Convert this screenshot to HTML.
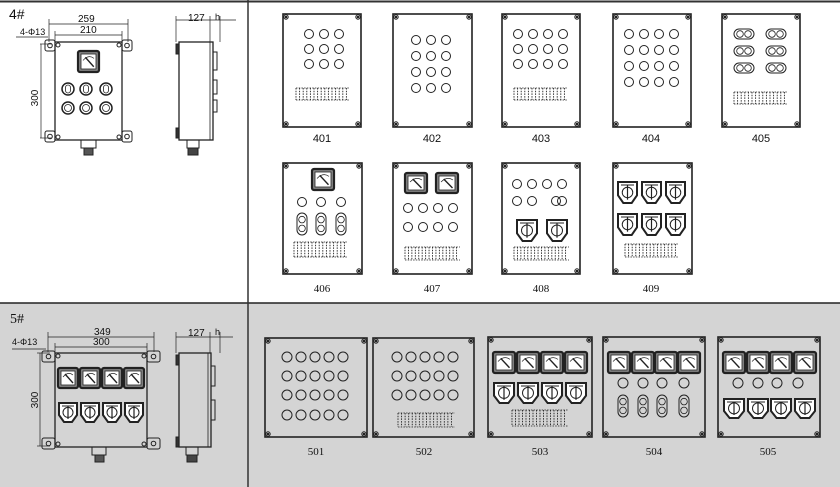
<!DOCTYPE html>
<html><head><meta charset="utf-8"><style>
html,body{margin:0;padding:0;background:#fff;}
svg{display:block;}
text{font-family:"Liberation Sans",sans-serif;fill:#111;}
.s{font-family:"Liberation Serif",serif;}
</style></head><body>
<svg id="g" width="840" height="487" viewBox="0 0 840 487" xmlns="http://www.w3.org/2000/svg">
<rect x="0" y="303" width="840" height="184" fill="#d4d4d4"/>
<line x1="0" y1="1.5" x2="840" y2="1.5" stroke="#333" stroke-width="2"/>
<line x1="0" y1="303" x2="840" y2="303" stroke="#222" stroke-width="1.5"/>
<line x1="248" y1="0" x2="248" y2="487" stroke="#333" stroke-width="1.5"/>
<g id="d" fill="none" stroke="#222"></g>
<text x="9" y="19" font-size="14">4#</text>
<text x="20" y="35" font-size="9">4-Φ13</text>
<text x="78" y="22" font-size="10">259</text>
<text x="80" y="33" font-size="10">210</text>
<text x="38" y="98" font-size="10" transform="rotate(-90 38 98)" text-anchor="middle">300</text>
<text x="188" y="21" font-size="10">127</text>
<text x="215" y="20" font-size="9">h</text>
<text x="10" y="323" font-size="14" class="s">5#</text>
<text x="12" y="345" font-size="9">4-Φ13</text>
<text x="94" y="335" font-size="10">349</text>
<text x="93" y="345" font-size="10">300</text>
<text x="38" y="400" font-size="10" transform="rotate(-90 38 400)" text-anchor="middle">300</text>
<text x="188" y="336" font-size="10">127</text>
<text x="215" y="335" font-size="9">h</text>
<g font-size="11" text-anchor="middle">
<text x="322" y="142">401</text><text x="432" y="142">402</text><text x="541" y="142">403</text><text x="651" y="142">404</text><text x="761" y="142">405</text>
<text x="322" y="292" class="s">406</text><text x="432" y="292" class="s">407</text><text x="541" y="292" class="s">408</text><text x="651" y="292" class="s">409</text>
<text x="316" y="455" class="s">501</text><text x="424" y="455" class="s">502</text><text x="540" y="455" class="s">503</text><text x="654" y="455" class="s">504</text><text x="768" y="455" class="s">505</text>
</g>
</svg>
<script>
var d=document.getElementById('d'),h='';
function R(x,y,w,ht,a){h+='<rect x="'+x+'" y="'+y+'" width="'+w+'" height="'+ht+'" '+(a||'')+'/>';}
function C(x,y,r,a){h+='<circle cx="'+x+'" cy="'+y+'" r="'+r+'" '+(a||'')+'/>';}
function L(a,b,c,e,s){h+='<line x1="'+a+'" y1="'+b+'" x2="'+c+'" y2="'+e+'" '+(s||'stroke-width="0.7"')+'/>';}
function P(x,y,w,ht){R(x,y,w,ht,'stroke-width="1.6"');[[x+3,y+3],[x+w-3,y+3],[x+3,y+ht-3],[x+w-3,y+ht-3]].forEach(function(p){C(p[0],p[1],2.2,'stroke-width="1"');C(p[0],p[1],0.8,'fill="#222"');});}
function circ(xs,ys,r){ys.forEach(function(y){xs.forEach(function(x){C(x,y,r||4.5,'stroke-width="1"');});});}
function strip(x,y,w,ht){var n=Math.round(w/3.5);for(var i=0;i<n;i++){var xx=x+i*w/n;L(xx,y,xx,y+ht,'stroke-width="0.9" stroke-dasharray="1.5,1.2"');}L(x,y,x+w,y,'stroke-width="0.8" stroke-dasharray="1.5,1.2"');L(x,y+ht,x+w,y+ht,'stroke-width="0.8" stroke-dasharray="1.5,1.2"');}
function meter(x,y,w,ht){R(x,y,w,ht,'stroke-width="2.2" rx="2" fill="#888"');R(x+3,y+3,w-6,ht-6,'fill="#fff" stroke-width="0.8"');h+='<path d="M'+(x+5)+' '+(y+ht*0.45)+' Q'+(x+w/2)+' '+(y+3)+' '+(x+w-5)+' '+(y+ht*0.35)+'" stroke-width="0.7"/>';L(x+w*0.35,y+ht*0.3,x+w*0.75,y+ht*0.75,'stroke-width="1.4"');}
function sw(x,y,w,ht){h+='<path d="M'+(x+1)+' '+(y+1)+' H'+(x+w-1)+' V'+(y+ht*0.65)+' L'+(x+w*0.7)+' '+(y+ht)+' H'+(x+w*0.3)+' L'+(x+1)+' '+(y+ht*0.65)+' Z" stroke-width="2" fill="#fff"/>';h+='<path d="M'+(x+4)+' '+(y+4)+' H'+(x+w-4)+'" stroke-width="1"/>';C(x+w/2,y+ht*0.52,w*0.25,'stroke-width="1"');L(x+w/2,y+ht*0.2,x+w/2,y+ht*0.85,'stroke-width="1.2"');}
function vov(cx,y,w,ht){R(cx-w/2,y,w,ht,'rx="'+(w/2)+'" stroke-width="1"');C(cx,y+ht*0.3,w*0.33,'stroke-width="0.8"');C(cx,y+ht*0.7,w*0.33,'stroke-width="0.8"');}
function hov(x,cy,w,ht){R(x,cy-ht/2,w,ht,'rx="'+(ht/2)+'" stroke-width="1"');C(x+w*0.3,cy,ht*0.33,'stroke-width="0.8"');C(x+w*0.7,cy,ht*0.33,'stroke-width="0.8"');}
// row 1
P(283,14,78,113);circ([309,324,339],[34,49,64]);strip(296,88,54,12);
P(393,14,79,113);circ([416,431,446],[40,56,72,88]);
P(502,14,78,113);circ([518,533,548,563],[34,49,64]);strip(514,88,54,12);
P(613,14,78,113);circ([629,644,659,674],[34,50,66,82,98].slice(0,4));
P(722,14,78,113);[34,51,68].forEach(function(y){hov(734,y,20,10);hov(766,y,20,10);});strip(734,92,54,12);
// row 2
P(283,163,79,111);meter(312,169,22,21);circ([302,321,341],[202]);[302,321,341].forEach(function(x){vov(x,213,10,22);});strip(294,242,54,15);
P(393,163,79,111);meter(405,173,22,20);meter(436,173,22,20);circ([408,423,438,453],[208,227]);strip(405,247,55,13);
P(502,163,78,111);circ([517,532,547,562],[184]);circ([517,532],[201]);C(556,201,4.5,'stroke-width="1"');C(562,201,4.5,'stroke-width="1"');sw(516,219,22,22);sw(546,219,22,22);strip(514,247,55,13);
P(613,163,79,111);[181,213].forEach(function(y){sw(617,y,21,22);sw(641,y,21,22);sw(665,y,21,22);});strip(625,244,54,13);
// row 3
P(265,338,102,99);circ([287,301,315,329,343],[357,376,395,415],5);
P(373,338,101,99);circ([397,411,425,439,453],[357,376,395],5);strip(398,413,57,14);
P(488,337,104,100);[493,517,541,565].forEach(function(x){meter(x,352,22,21);sw(x,382,22,21);});strip(512,410,56,16);
P(603,337,102,100);[608,632,655,678].forEach(function(x){meter(x,352,22,21);});circ([623,643,662,684],[383],5);[623,643,662,684].forEach(function(x){vov(x,395,10,22);});
P(718,337,102,100);[723,747,770,794].forEach(function(x){meter(x,352,22,21);sw(x,398,22,20);});circ([738,758,777,798],[383],5);
// left 4#
function front(x,y,w,ht,ex){R(x,y,w,ht,'stroke-width="1.3"');[[x-ex,y-2],[x+w,y-2],[x-ex,y+ht-9],[x+w,y+ht-9]].forEach(function(p){R(p[0],p[1],ex,11,'rx="2" stroke-width="1"');C(p[0]+ex/2,p[1]+5.5,2.3,'stroke-width="1"');});[[x+3,y+3],[x+w-3,y+3],[x+3,y+ht-3],[x+w-3,y+ht-3]].forEach(function(p){C(p[0],p[1],2,'stroke-width="1"');});}
front(55,42,67,98,10);meter(78,51,21,21);
[68,86,106].forEach(function(x){C(x,89,6,'stroke-width="1.5"');R(x-2.5,85,5,8,'rx="2.5" stroke-width="0.8"');C(x,108,6,'stroke-width="1.5"');C(x,108,3.5,'stroke-width="0.8"');});
R(81,140,15,8,'stroke-width="1"');R(84,148,9,7,'stroke-width="1" fill="#555"');
R(179,42,34,98,'stroke-width="1.3"');R(176,44,3,10,'fill="#333"');R(176,128,3,10,'fill="#333"');R(210,42,3,98,'stroke-width="0.8"');R(213,52,4,18,'stroke-width="1"');R(213,80,4,14,'stroke-width="1"');R(213,100,4,12,'stroke-width="1"');R(187,140,12,8,'stroke-width="1"');R(188,148,10,7,'fill="#444"');
L(49,24,128,24);L(49,19,49,42);L(128,19,128,42);L(55,35,122,35);L(55,31,55,42);L(122,31,122,42);L(40,44,52,44);L(40,138,52,138);L(41,44,41,138);L(16,37,48,37);
L(176,16,176,42);L(176,20,210,20);L(210,16,210,42);L(220,16,220,42);L(210,20,236,20);
// left 5#
front(55,353,92,94,13);[58,80,102,124].forEach(function(x){meter(x,368,20,20);sw(x,402,20,20);});
R(92,447,14,8,'stroke-width="1"');R(95,455,9,7,'fill="#555"');
R(179,353,32,94,'stroke-width="1.3"');R(176,355,3,10,'fill="#333"');R(176,437,3,10,'fill="#333"');R(208,353,3,94,'stroke-width="0.8"');R(211,366,4,20,'stroke-width="1"');R(211,400,4,20,'stroke-width="1"');R(186,447,12,8,'stroke-width="1"');R(187,455,10,7,'fill="#444"');
L(48,337,154,337);L(48,332,48,352);L(154,332,154,352);L(55,347,147,347);L(55,343,55,352);L(147,343,147,352);L(37,353,50,353);L(37,446,50,446);L(40,353,40,446);L(12,349,46,349);
L(176,332,176,353);L(176,337,210,337);L(210,332,210,353);L(220,332,220,353);L(210,337,233,337);
d.innerHTML=h;
</script>
</body></html>
